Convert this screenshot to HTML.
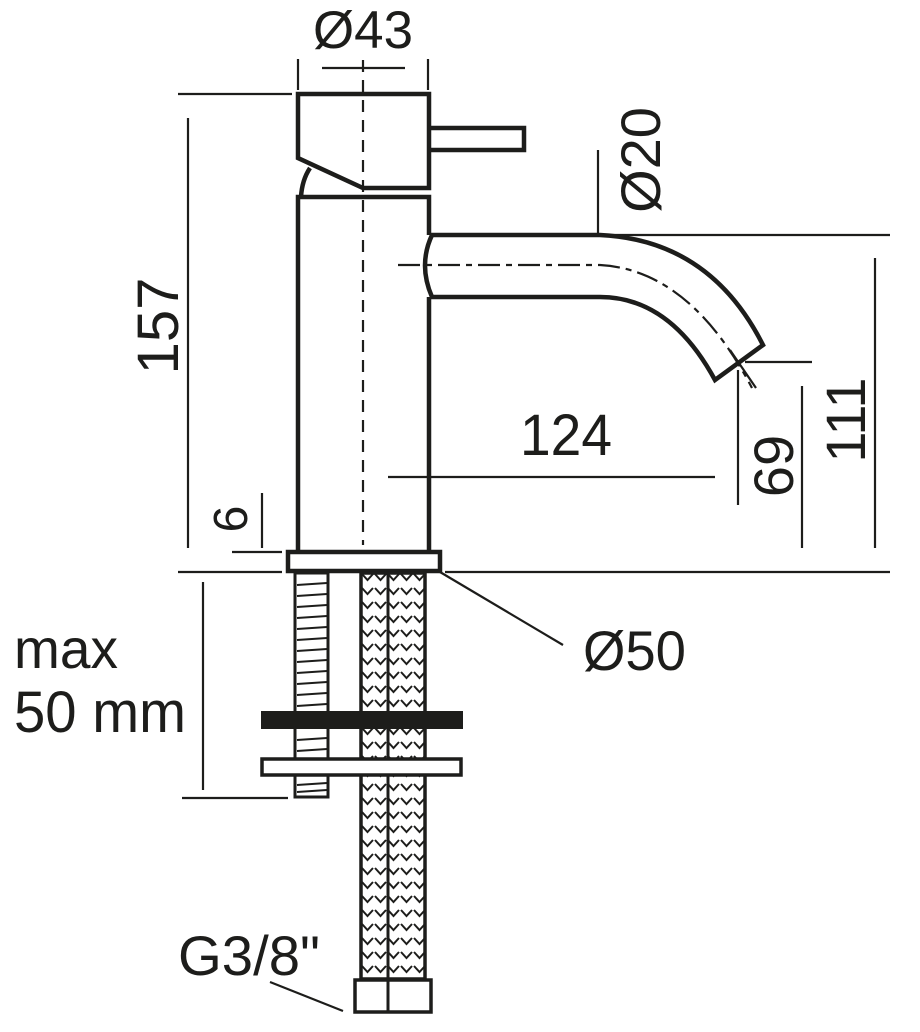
<!DOCTYPE html>
<html><head><meta charset="utf-8"><style>
html,body{margin:0;padding:0;background:#fff;}
svg{display:block;}
text{font-family:"Liberation Sans",sans-serif;fill:#1d1d1b;}
</style></head><body>
<svg width="920" height="1032" viewBox="0 0 920 1032" xmlns="http://www.w3.org/2000/svg">
<defs>
<pattern id="hz" x="361" y="572" width="13" height="14" patternUnits="userSpaceOnUse">
<path d="M1,2 L6.5,8 L12,2" fill="none" stroke="#1d1d1b" stroke-width="2"/>
</pattern>
</defs>
<g stroke="#1d1d1b" fill="none" stroke-linecap="butt">
<!-- thin dims -->
<g stroke-width="2.2">
<line x1="298" y1="59" x2="298" y2="90"/>
<line x1="428" y1="59" x2="428" y2="90"/>
<line x1="322" y1="68" x2="405" y2="68"/>
<line x1="178" y1="94" x2="292" y2="94"/>
<line x1="188" y1="118" x2="188" y2="548"/>
<line x1="178" y1="572" x2="282" y2="572"/>
<line x1="445" y1="572" x2="890" y2="572"/>
<line x1="232" y1="552" x2="282" y2="552"/>
<line x1="262" y1="493" x2="262" y2="548"/>
<line x1="598" y1="150" x2="598" y2="233"/>
<line x1="602" y1="235" x2="890" y2="235"/>
<line x1="875" y1="258" x2="875" y2="548"/>
<line x1="802" y1="386" x2="802" y2="548"/>
<line x1="745" y1="362" x2="812" y2="362"/>
<line x1="738" y1="370" x2="738" y2="505"/>
<line x1="730" y1="350" x2="756" y2="388"/>
<line x1="388" y1="477" x2="715" y2="477"/>
<line x1="440" y1="572" x2="563" y2="645"/>
<line x1="203" y1="582" x2="203" y2="790"/>
<line x1="182" y1="798" x2="288" y2="798"/>
<line x1="270" y1="982" x2="343" y2="1011"/>
<line x1="363" y1="60" x2="363" y2="545" stroke-dasharray="12,8"/>
<path d="M398,265 L600,265 Q690,270 752,388" stroke-dasharray="22,6,6,6"/>
</g>
<!-- thick outlines -->
<g stroke-width="4.5" stroke-linejoin="miter">
<path d="M298,94 L429,94 L429,188 L363,188 L298,158 Z"/>
<path d="M429,128 L524,128 L524,150 L429,150"/>
<path d="M310,168 Q302,180 301,197"/>
<path d="M298,550 L298,197 L429,197 L429,235 M429,297 L429,550"/>
<path d="M432,235 L600,235 Q710,240 763,345 L715,380 Q670,297 600,297 L432,297 Q418,265 432,235 Z"/>
<rect x="288" y="552" width="152" height="19"/>
<rect x="295" y="573" width="33" height="224" stroke-width="3"/>
<rect x="361" y="573" width="64" height="406" fill="url(#hz)" stroke-width="3.5"/>
<line x1="388" y1="573" x2="388" y2="1012" stroke-width="3"/>
<rect x="355" y="980" width="76" height="32" stroke-width="3.5" fill="#fff"/>
<line x1="388" y1="980" x2="388" y2="1012" stroke-width="3"/>
<rect x="262" y="759" width="199" height="16" fill="#fff" stroke-width="3.5"/>
</g>
<!-- threads -->
<g stroke-width="2">
<path d="M297,585 l30,-2 M297,596 l30,-2 M297,607 l30,-2 M297,618 l30,-2 M297,629 l30,-2 M297,640 l30,-2 M297,651 l30,-2 M297,662 l30,-2 M297,673 l30,-2 M297,684 l30,-2 M297,695 l30,-2 M297,706 l30,-2 M297,740 l30,-2 M297,751 l30,-2 M297,785 l30,-2 M297,792 l30,-2"/>
</g>
</g>
<rect x="261" y="711" width="202" height="18" fill="#1d1d1b"/>
<!-- labels -->
<text x="313" y="48" font-size="53" textLength="100" lengthAdjust="spacingAndGlyphs">Ø43</text>
<text transform="translate(178,326) rotate(-90)" font-size="58" text-anchor="middle">157</text>
<text transform="translate(660,160) rotate(-90)" font-size="56" text-anchor="middle">Ø20</text>
<text x="520" y="455" font-size="58" textLength="92" lengthAdjust="spacingAndGlyphs">124</text>
<text transform="translate(793,466) rotate(-90)" font-size="56" text-anchor="middle">69</text>
<text transform="translate(865,420) rotate(-90)" font-size="56" text-anchor="middle">111</text>
<text transform="translate(247,519) rotate(-90)" font-size="48" text-anchor="middle">6</text>
<text x="583" y="670" font-size="56" textLength="103" lengthAdjust="spacingAndGlyphs">Ø50</text>
<text x="14" y="668" font-size="56" textLength="104" lengthAdjust="spacingAndGlyphs">max</text>
<text x="14" y="732" font-size="58" textLength="172" lengthAdjust="spacingAndGlyphs">50 mm</text>
<text x="178" y="975" font-size="56" textLength="142" lengthAdjust="spacingAndGlyphs">G3/8"</text>
</svg>
</body></html>
